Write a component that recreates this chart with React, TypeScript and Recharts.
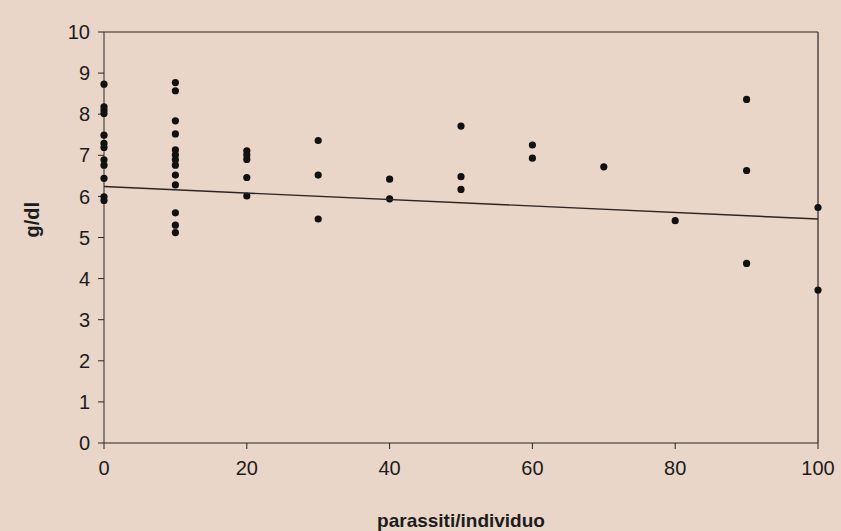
import { ScatterChart, Scatter, XAxis, YAxis, ReferenceLine } from 'recharts'

// parassiti per individuo (x) and g/dl (y)
const xs0 = [0, 0, 0, 0, 0, 0, 0, 0, 0, 0, 0, 0]
const ys0 = [8.73, 8.18, 8.1, 8.02, 7.49, 7.29, 7.19, 6.89, 6.76, 6.44, 5.99, 5.9]
const xs10 = [10, 10, 10, 10, 10, 10, 10, 10, 10, 10, 10, 10, 10]
const ys10 = [8.77, 8.57, 7.84, 7.52, 7.13, 7.01, 6.89, 6.76, 6.52, 6.28, 5.6, 5.3, 5.12]
const xsRest = [20, 20, 20, 20, 20, 30, 30, 30, 40, 40, 50, 50, 50, 60, 60, 70, 80, 90, 90, 90, 100, 100]
const ysRest = [7.11, 7.01, 6.9, 6.46, 6.01, 7.36, 6.52, 5.45, 6.42, 5.94, 7.71, 6.48, 6.17, 7.25, 6.93, 6.72, 5.41, 8.36, 6.63, 4.37, 5.73, 3.72]

// linear trend end points
const trendX = [0, 100]
const trendY = [6.24, 5.45]

const xTicks = [0, 20, 40, 60, 80, 100]
const yTicks = [0, 1, 2, 3, 4, 5, 6, 7, 8, 9, 10]

const points = [
  ...xs0.map((x, i) => ({ x, y: ys0[i] })),
  ...xs10.map((x, i) => ({ x, y: ys10[i] })),
  ...xsRest.map((x, i) => ({ x, y: ysRest[i] })),
]
const trend = trendX.map((x, i) => ({ x, y: trendY[i] }))

const ink = '#2a2422'
const font = '"Liberation Sans", Arial, sans-serif'

export default function App() {
  return (
    <div style={{ position: 'absolute', left: 0, top: 0, width: 841, height: 531, background: '#e9d6c8', fontFamily: font }}>
      <ScatterChart width={841} height={531} margin={{ top: 32, right: 23, bottom: 20, left: 44 }}>
        <XAxis
          type="number"
          dataKey="x"
          domain={[0, 100]}
          ticks={xTicks}
          stroke={ink}
          tickSize={6}
          tickMargin={12}
          height={68}
          tick={{ fill: '#1c1c1c', fontSize: 20, fontFamily: font }}
          label={{ value: 'parassiti/individuo', position: 'insideBottom', offset: -16, fill: '#1c1c1c', fontSize: 19, fontWeight: 'bold', fontFamily: font }}
        />
        <YAxis
          type="number"
          dataKey="y"
          domain={[0, 10]}
          ticks={yTicks}
          stroke={ink}
          tickSize={6}
          tickMargin={8}
          width={60}
          tick={{ fill: '#1c1c1c', fontSize: 20, fontFamily: font }}
          label={{ value: 'g/dl', angle: -90, position: 'insideLeft', offset: -12, fill: '#1c1c1c', fontSize: 20, fontWeight: 'bold', fontFamily: font }}
        />
        <ReferenceLine y={10} stroke={ink} strokeWidth={1.2} />
        <ReferenceLine x={100} stroke={ink} strokeWidth={1.2} />
        <Scatter data={points} fill="#111" isAnimationActive={false} shape={(p: any) => <circle cx={p.cx} cy={p.cy} r={3.6} fill="#111" />} />
        <Scatter data={trend} line={{ stroke: ink, strokeWidth: 1.4 }} shape={() => <g />} isAnimationActive={false} />
      </ScatterChart>
    </div>
  )
}
